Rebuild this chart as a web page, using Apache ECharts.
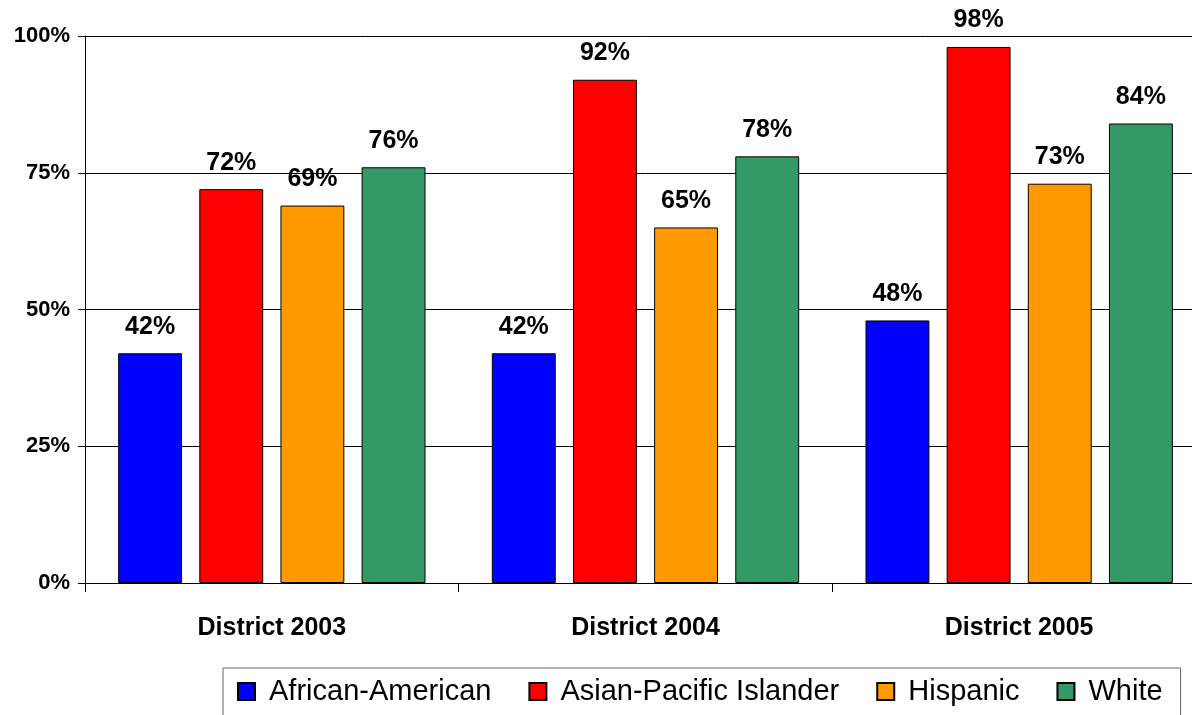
<!DOCTYPE html>
<html>
<head>
<meta charset="utf-8">
<script src="https://cdn.jsdelivr.net/npm/echarts@6/dist/echarts.min.js"></script>
<style>html,body{margin:0;padding:0;background:#fff;overflow:hidden;width:1192px;height:715px;}#c{width:1206px;height:715px;}</style>
</head>
<body>
<div id="c"></div>
<script>
const categories = ['District 2003', 'District 2004', 'District 2005'];
const africanAmerican = [42, 42, 48];
const asianPacific = [72, 92, 98];
const hispanic = [69, 65, 73];
const white = [76, 78, 84];
const seriesNames = ['African-American', 'Asian-Pacific Islander', 'Hispanic', 'White'];
const colors = ['#0000FF', '#FF0000', '#FF9900', '#339966'];
const values = [africanAmerican, asianPacific, hispanic, white];

const chart = echarts.init(document.getElementById('c'));
const font = 'Liberation Sans, Arial, sans-serif';
chart.setOption({
  animation: false,
  backgroundColor: '#fff',
  grid: { left: 85, top: 36, bottom: 132, right: 0, containLabel: false },
  legend: {
    left: 223, top: 668,
    padding: [9, 18, 30, 14],
    itemWidth: 17, itemHeight: 17, itemGap: 37,
    borderColor: '#666', borderWidth: 1, backgroundColor: '#fff',
    icon: 'rect',
    textStyle: { fontFamily: font, fontSize: 29, color: '#000', padding: [0, 0, 0, 9] },
    data: seriesNames
  },
  xAxis: {
    type: 'category', data: categories,
    axisLine: { lineStyle: { color: '#000', width: 1 } },
    axisTick: { show: true, length: 9, lineStyle: { color: '#000' } },
    axisLabel: { fontFamily: font, fontSize: 25, fontWeight: 'bold', color: '#000', margin: 33 }
  },
  yAxis: {
    type: 'value', min: 0, max: 100, interval: 25,
    axisLine: { show: true, lineStyle: { color: '#000' } },
    axisTick: { show: true, length: 7, lineStyle: { color: '#000' } },
    axisLabel: { fontFamily: font, fontSize: 22, fontWeight: 'bold', color: '#000', margin: 15, formatter: '{value}%' },
    splitLine: { lineStyle: { color: '#000', width: 1 } }
  },
  series: seriesNames.map((n, i) => ({
    name: n, type: 'bar', data: values[i],
    barWidth: '17.1%', barGap: '27%', barCategoryGap: '17.8%',
    itemStyle: { color: colors[i], borderColor: '#000', borderWidth: 1 },
    label: { show: true, position: 'top', distance: 14, formatter: '{c}%', fontFamily: font, fontSize: 25, fontWeight: 'bold', color: '#000' }
  }))
});
</script>
</body>
</html>
